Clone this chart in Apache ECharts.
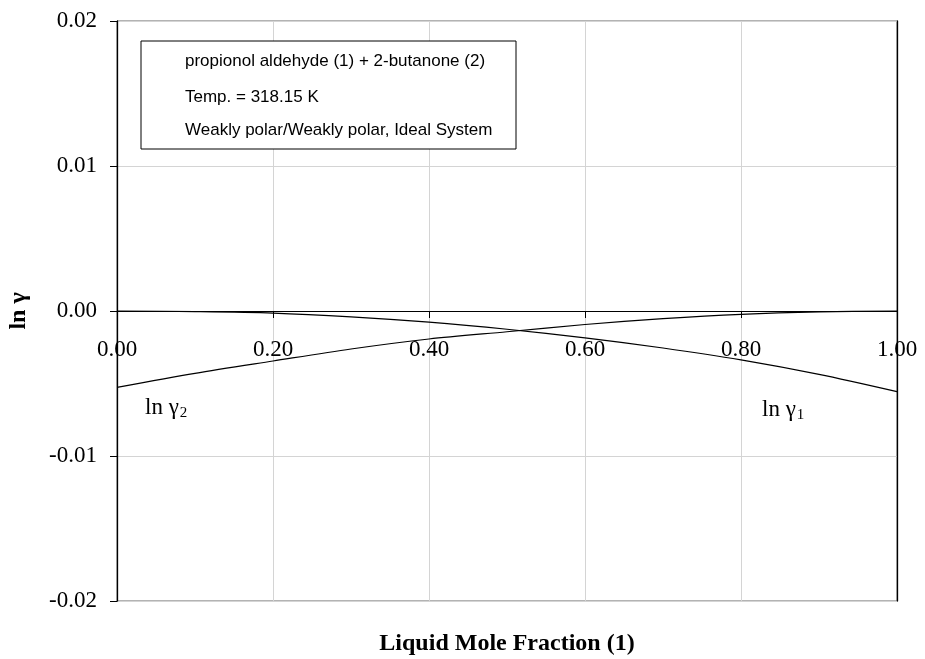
<!DOCTYPE html>
<html>
<head>
<meta charset="utf-8">
<script src="https://cdn.jsdelivr.net/npm/echarts@6/dist/echarts.min.js"></script>
<style>
html,body{margin:0;padding:0;background:#fff;}
#chart{width:925px;height:659px;}
</style>
</head>
<body>
<div id="chart"></div>
<script>
// Data
const xValues = [0.0, 0.1, 0.2, 0.3, 0.4, 0.5, 0.6, 0.7, 0.8, 0.9, 1.0];
const lnGamma1 = [0.0, -0.00004, -0.00014, -0.00040, -0.00077, -0.00126, -0.00185, -0.00255, -0.00337, -0.00437, -0.00556];
const lnGamma2 = [-0.00527, -0.00430, -0.00345, -0.00262, -0.00193, -0.00143, -0.00093, -0.00053, -0.00023, -0.00006, 0.0];
const xTickValues = [0, 0.2, 0.4, 0.6, 0.8, 1.0];
const yTickValues = [-0.02, -0.01, 0.0, 0.01, 0.02];
const infoLines = [
  'propionol aldehyde (1) + 2-butanone (2)',
  'Temp. = 318.15 K',
  'Weakly polar/Weakly polar, Ideal System'
];
const xTitle = 'Liquid Mole Fraction (1)';
const yTitle = 'ln γ';

const chart = echarts.init(document.getElementById('chart'), null, {renderer: 'canvas'});
const serif = '"Liberation Serif", "Times New Roman", serif';
const sans = '"Liberation Sans", Arial, sans-serif';

const option = {
  animation: false,
  backgroundColor: '#fff',
  grid: {
    left: 117, top: 21, width: 780, height: 580,
    show: true, borderColor: '#666', borderWidth: 1, backgroundColor: 'transparent'
  },
  xAxis: {
    type: 'value', position: 'bottom', offset: -290,
    min: xTickValues[0], max: xTickValues[xTickValues.length - 1], interval: 0.2,
    axisLine: {onZero: false, lineStyle: {color: '#000', width: 1}},
    axisTick: {show: true, inside: false, length: 7, lineStyle: {color: '#000'}},
    axisLabel: {
      margin: 27, fontFamily: serif, fontSize: 23, color: '#000',
      showMinLabel: true, showMaxLabel: true,
      formatter: v => v.toFixed(2)
    },
    splitLine: {show: true, lineStyle: {color: '#d4d4d4', width: 1}}
  },
  yAxis: [{
    type: 'value',
    min: yTickValues[0], max: yTickValues[yTickValues.length - 1], interval: 0.01,
    axisLine: {show: true, onZero: false, lineStyle: {color: '#000', width: 1.3}},
    axisTick: {show: true, inside: false, length: 7, lineStyle: {color: '#000'}},
    axisLabel: {
      margin: 20, fontFamily: serif, fontSize: 23, color: '#000',
      formatter: v => v.toFixed(2)
    },
    splitLine: {show: true, lineStyle: {color: '#d4d4d4', width: 1}}
  }, {
    type: 'value', position: 'right',
    min: yTickValues[0], max: yTickValues[yTickValues.length - 1], interval: 0.01,
    axisLine: {show: true, onZero: false, lineStyle: {color: '#000', width: 1.3}},
    axisTick: {show: false}, axisLabel: {show: false}, splitLine: {show: false}
  }],
  series: [{
    name: 'ln γ1', type: 'line', smooth: 0.3, showSymbol: false,
    lineStyle: {color: '#000', width: 1.2},
    data: xValues.map((x, i) => [x, lnGamma1[i]]), z: 5
  }, {
    name: 'ln γ2', type: 'line', smooth: 0.3, showSymbol: false,
    lineStyle: {color: '#000', width: 1.2},
    data: xValues.map((x, i) => [x, lnGamma2[i]]), z: 5
  }],
  graphic: [
    {type: 'rect', z: 100, shape: {x: 141, y: 41, width: 375, height: 108},
     style: {fill: '#fff', stroke: '#000', lineWidth: 1}},
    {type: 'text', z: 101, x: 185, y: 61,
     style: {text: infoLines[0], font: '17px ' + sans, fill: '#000', verticalAlign: 'middle'}},
    {type: 'text', z: 101, x: 185, y: 97,
     style: {text: infoLines[1], font: '17px ' + sans, fill: '#000', verticalAlign: 'middle'}},
    {type: 'text', z: 101, x: 185, y: 130,
     style: {text: infoLines[2], font: '17px ' + sans, fill: '#000', verticalAlign: 'middle'}},
    {type: 'text', z: 101, x: 507, y: 644,
     style: {text: xTitle, font: 'bold 24px ' + serif, fill: '#000', align: 'center', verticalAlign: 'middle'}},
    {type: 'text', z: 101, x: 19, y: 311, rotation: Math.PI / 2,
     style: {text: yTitle, font: 'bold 24px ' + serif, fill: '#000', align: 'center', verticalAlign: 'middle'}},
    {type: 'text', z: 101, x: 145, y: 408,
     style: {text: '{a|ln γ}{b|2}', verticalAlign: 'middle',
       rich: {a: {fontFamily: serif, fontSize: 23, color: '#000'},
              b: {fontFamily: serif, fontSize: 15, color: '#000', padding: [10, 0, 0, 1]}}}},
    {type: 'text', z: 101, x: 762, y: 410,
     style: {text: '{a|ln γ}{b|1}', verticalAlign: 'middle',
       rich: {a: {fontFamily: serif, fontSize: 23, color: '#000'},
              b: {fontFamily: serif, fontSize: 15, color: '#000', padding: [10, 0, 0, 1]}}}}
  ]
};
chart.setOption(option);
</script>
</body>
</html>
